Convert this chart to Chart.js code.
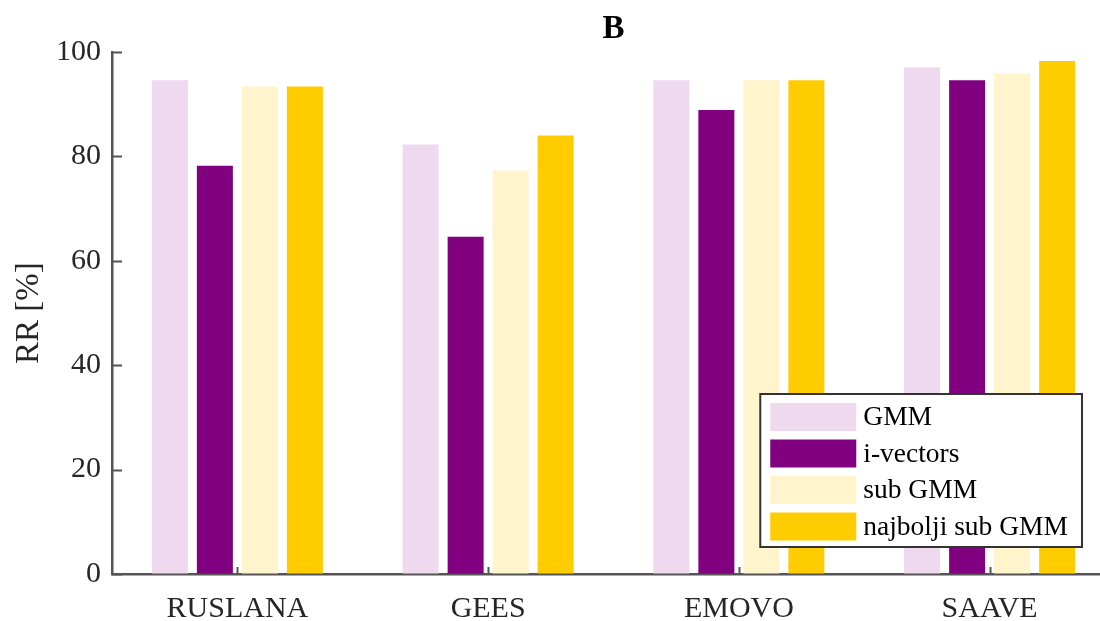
<!DOCTYPE html>
<html>
<head>
<meta charset="utf-8">
<script src="https://cdn.jsdelivr.net/npm/chart.js@4/dist/chart.umd.min.js"></script>
<style>
  html, body { margin: 0; padding: 0; background: #ffffff; }
  #wrap { width: 1100px; height: 621px; overflow: hidden; position: relative; }
  #c { display: block; }
</style>
</head>
<body>
<div id="wrap"><canvas id="c" width="1120" height="621"></canvas></div>
<script>
// ---- data ----
const categories = ['RUSLANA', 'GEES', 'EMOVO', 'SAAVE'];
const seriesNames = ['GMM', 'i-vectors', 'sub GMM', 'najbolji sub GMM'];
const gmmValues = [94.6, 82.3, 94.6, 97.1];
const ivectorValues = [78.2, 64.6, 88.9, 94.6];
const subGmmValues = [93.4, 77.3, 94.6, 95.9];
const bestSubGmmValues = [93.4, 84.0, 94.6, 98.3];
const seriesColors = ['#EED9EF', '#800080', '#FFF4CB', '#FFCC00'];
const yTickMin = 0, yTickMax = 100, yTickStep = 20;
const chartTitle = 'B';
const yAxisTitle = 'RR [%]';

const FONT = '"Liberation Serif", "Times New Roman", Times, serif';
const AXIS_COLOR = '#555555';
const TEXT_COLOR = '#262626';

const seriesValues = [gmmValues, ivectorValues, subGmmValues, bestSubGmmValues];

const inwardTicks = {
  id: 'inwardTicks',
  afterDatasetsDraw(chart) {
    const { ctx, chartArea, scales } = chart;
    ctx.save();
    ctx.strokeStyle = AXIS_COLOR;
    ctx.lineWidth = 2;
    scales.y.ticks.forEach(t => {
      const y = Math.round(scales.y.getPixelForValue(t.value)) + 0.5;
      ctx.beginPath();
      ctx.moveTo(chartArea.left, y);
      ctx.lineTo(chartArea.left + 10, y);
      ctx.stroke();
    });
    categories.forEach((c, i) => {
      const x = Math.round(scales.x.getPixelForValue(i)) + 0.5;
      ctx.beginPath();
      ctx.moveTo(x, chartArea.bottom);
      ctx.lineTo(x, chartArea.bottom - 7);
      ctx.stroke();
    });
    ctx.restore();
  }
};

const boxLegend = {
  id: 'boxLegend',
  afterDraw(chart) {
    const { ctx, chartArea } = chart;
    const fontSize = 27.5;
    ctx.save();
    ctx.font = fontSize + 'px ' + FONT;
    const padL = 10, swW = 86, swH = 28, gap = 7, padR = 14, padT = 9, padB = 6.5, pitch = 36.5;
    let maxW = 0;
    chart.data.datasets.forEach(ds => { maxW = Math.max(maxW, ctx.measureText(ds.label).width); });
    const w = padL + swW + gap + maxW + padR;
    const n = chart.data.datasets.length;
    const h = padT + (n - 1) * pitch + swH + padB;
    const right = chartArea.right - 33;
    const bottom = chartArea.bottom - 27;
    const left = right - w, top = bottom - h;
    ctx.fillStyle = '#ffffff';
    ctx.fillRect(left, top, w, h);
    ctx.strokeStyle = '#333333';
    ctx.lineWidth = 2;
    ctx.strokeRect(left, top, w, h);
    chart.data.datasets.forEach((ds, i) => {
      const sy = top + padT + i * pitch;
      ctx.fillStyle = ds.backgroundColor;
      ctx.fillRect(left + padL, sy, swW, swH);
      ctx.fillStyle = '#000000';
      ctx.textBaseline = 'middle';
      ctx.textAlign = 'left';
      ctx.fillText(ds.label, left + padL + swW + gap, sy + swH / 2 + 1);
    });
    ctx.restore();
  }
};

new Chart(document.getElementById('c'), {
  type: 'bar',
  data: {
    labels: categories,
    datasets: seriesNames.map((name, i) => ({
      label: name,
      data: seriesValues[i],
      backgroundColor: seriesColors[i],
      borderWidth: 0,
      barPercentage: 0.8,
      categoryPercentage: 0.718
    }))
  },
  options: {
    responsive: false,
    animation: false,
    devicePixelRatio: 1,
    layout: { padding: { left: 0, right: 5, top: 0, bottom: 0 } },
    plugins: {
      legend: { display: false },
      tooltip: { enabled: false },
      title: {
        display: true,
        text: chartTitle,
        fullSize: false,
        color: '#000000',
        font: { family: FONT, size: 33, weight: 'bold', lineHeight: 1.2 },
        padding: { top: 10, bottom: 2.5 }
      }
    },
    scales: {
      x: {
        type: 'category',
        offset: true,
        grid: { display: true, drawOnChartArea: false, drawTicks: false },
        border: { display: true, color: AXIS_COLOR, width: 2.5 },
        ticks: { color: TEXT_COLOR, font: { family: FONT, size: 30 }, padding: 17, maxRotation: 0, autoSkip: false },
        afterFit(scale) { scale.height = 47; }
      },
      y: {
        min: yTickMin,
        max: yTickMax,
        grid: { display: true, drawOnChartArea: false, drawTicks: false },
        border: { display: true, color: AXIS_COLOR, width: 2.5 },
        ticks: { stepSize: yTickStep, color: TEXT_COLOR, font: { family: FONT, size: 30 }, padding: 11 },
        title: {
          display: true,
          text: yAxisTitle,
          color: TEXT_COLOR,
          font: { family: FONT, size: 33, lineHeight: 1.2 },
          padding: { top: 10, bottom: 0 }
        },
        afterFit(scale) { scale.width = 112; }
      }
    }
  },
  plugins: [inwardTicks, boxLegend]
});
</script>
</body>
</html>
